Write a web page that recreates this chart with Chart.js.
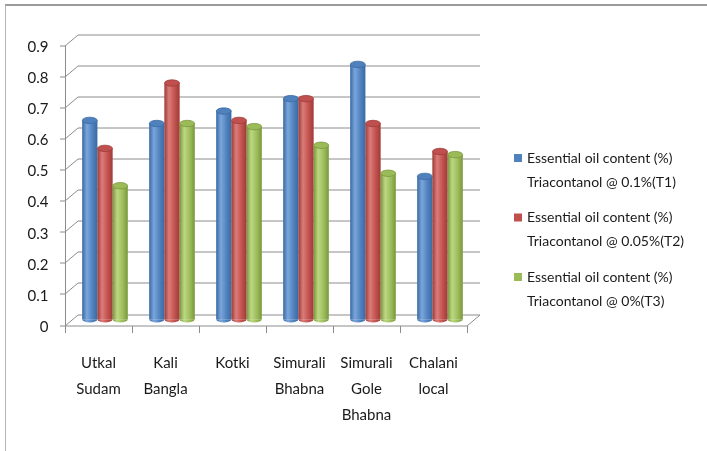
<!DOCTYPE html>
<html>
<head>
<meta charset="utf-8">
<script src="https://cdn.jsdelivr.net/npm/chart.js@4"></script>
<style>
  html, body { margin: 0; padding: 0; background: #fff; }
  #wrap { width: 707px; height: 451px; position: relative; }
</style>
</head>
<body>
<div id="wrap"><canvas id="oil-canvas"></canvas></div>
<script>
// varieties along the x axis
const varieties = [
  ['Utkal', 'Sudam'],
  ['Kali', 'Bangla'],
  ['Kotki'],
  ['Simurali', 'Bhabna'],
  ['Simurali', 'Gole', 'Bhabna'],
  ['Chalani', 'local'],
]
// essential oil content (%) per treatment
const oilT1 = [0.64, 0.63, 0.67, 0.71, 0.82, 0.46]
const oilT2 = [0.55, 0.76, 0.64, 0.71, 0.63, 0.54]
const oilT3 = [0.43, 0.63, 0.62, 0.56, 0.47, 0.53]
const seriesNames = [
  ['Essential oil content (%)', 'Triacontanol @ 0.1%(T1)'],
  ['Essential oil content (%)', 'Triacontanol @ 0.05%(T2)'],
  ['Essential oil content (%)', 'Triacontanol @ 0%(T3)'],
]
const yTicks = [0, 0.1, 0.2, 0.3, 0.4, 0.5, 0.6, 0.7, 0.8, 0.9]

// cylinder colours: dark edge, highlight, body, cap outline
const shades = [
  { dark: '#3c6aa3', light: '#7aa6dc', cap: '#4f81bd', line: '#3c6aa3' },
  { dark: '#9e3c39', light: '#dc7c79', cap: '#c0504d', line: '#9e3c39' },
  { dark: '#7a983f', light: '#bcd882', cap: '#9bbb59', line: '#7a983f' },
]

const FONT = 'Lato, "Open Sans", sans-serif'
const DX = 6.5
const DY = 5.5

// 3D frame: back wall, slanted side, floor and front axis
const frame3d = {
  id: 'frame3d',
  beforeDraw(chart) {
    const c = chart.ctx
    c.save()
    c.strokeStyle = '#9a9a9a'
    c.lineWidth = 2
    c.beginPath(); c.moveTo(5, 5); c.lineTo(707, 5); c.stroke()
    c.strokeStyle = '#b4b4b4'
    c.lineWidth = 1
    c.beginPath(); c.moveTo(5.5, 5); c.lineTo(5.5, 451); c.stroke()
    c.restore()
  },
  beforeDatasetsDraw(chart) {
    const c = chart.ctx
    const a = chart.chartArea
    const ys = chart.scales.y
    const L = a.left, R = a.right
    const y0 = ys.getPixelForValue(0)
    const yTop = ys.getPixelForValue(yTicks[yTicks.length - 1])
    c.save()
    c.lineWidth = 1
    c.strokeStyle = '#8c8c8c'
    yTicks.forEach(v => {
      const y = Math.round(ys.getPixelForValue(v)) + 0.5
      c.beginPath()
      c.moveTo(L + DX, y - DY); c.lineTo(R + DX, y - DY)
      c.moveTo(L - DX, y + DY); c.lineTo(L + DX, y - DY)
      c.moveTo(L - DX - 5, y + DY); c.lineTo(L - DX, y + DY)
      c.stroke()
    })
    // front axis
    c.beginPath()
    c.moveTo(Math.round(L - DX) + 0.5, yTop + DY)
    c.lineTo(Math.round(L - DX) + 0.5, y0 + DY)
    c.stroke()
    // floor
    const yb = Math.round(y0) + 0.5
    c.beginPath()
    c.moveTo(L - DX, yb + DY); c.lineTo(R - DX, yb + DY); c.lineTo(R + DX, yb - DY)
    c.stroke()
    // category ticks
    const n = varieties.length
    const step = (R - L) / n
    for (let i = 0; i <= n; i++) {
      const x = Math.round(L + i * step - DX) + 0.5
      c.beginPath(); c.moveTo(x, yb + DY); c.lineTo(x, yb + DY + 7); c.stroke()
    }
    c.restore()
  },
  afterDatasetsDraw(chart) {
    const c = chart.ctx
    c.save()
    chart.data.datasets.forEach((ds, di) => {
      const meta = chart.getDatasetMeta(di)
      const s = shades[di]
      meta.data.forEach(bar => {
        const rx = bar.width / 2
        const x0 = bar.x - rx
        // cylinder shading over the bar body
        const g = c.createLinearGradient(x0, 0, x0 + bar.width, 0)
        g.addColorStop(0, s.dark)
        g.addColorStop(0.3, s.light)
        g.addColorStop(0.7, s.cap)
        g.addColorStop(1, s.dark)
        c.fillStyle = g
        c.fillRect(x0, bar.y, bar.width, bar.base - bar.y)
        // bottom round
        c.beginPath()
        c.ellipse(bar.x, bar.base, rx, 3, 0, 0, Math.PI)
        c.fill()
        // top cap
        c.beginPath()
        c.ellipse(bar.x, bar.y, rx, 3.2, 0, 0, Math.PI * 2)
        c.fillStyle = s.cap
        c.fill()
        c.strokeStyle = s.line
        c.lineWidth = 0.8
        c.stroke()
      })
    })
    // legend
    c.font = '14px ' + FONT
    c.textBaseline = 'middle'
    c.textAlign = 'left'
    seriesNames.forEach((lines, i) => {
      const y = 158 + i * 59.5
      c.fillStyle = shades[i].cap
      c.fillRect(514, y - 4, 8, 8)
      c.fillStyle = '#1a1a1a'
      lines.forEach((t, j) => c.fillText(t, 527, y + j * 24))
    })
    c.restore()
  },
}

const ctx = document.getElementById('oil-canvas').getContext('2d')
new Chart(ctx, {
  type: 'bar',
  data: {
    labels: varieties,
    datasets: [
      { label: seriesNames[0].join(' '), data: oilT1, backgroundColor: shades[0].cap },
      { label: seriesNames[1].join(' '), data: oilT2, backgroundColor: shades[1].cap },
      { label: seriesNames[2].join(' '), data: oilT3, backgroundColor: shades[2].cap },
    ],
  },
  options: {
    responsive: true,
    maintainAspectRatio: false,
    animation: false,
    categoryPercentage: 0.68,
    barPercentage: 0.98,
    layout: { padding: { top: 39.5, right: 233.5, left: 0, bottom: 0 } },
    plugins: {
      legend: { display: false },
      tooltip: { enabled: false },
    },
    scales: {
      x: {
        grid: { display: false, drawTicks: false },
        border: { display: false },
        ticks: {
          color: '#1a1a1a',
          font: { family: FONT, size: 15, lineHeight: 1.73 },
          padding: 31,
          labelOffset: -DX,
          maxRotation: 0,
          autoSkip: false,
        },
        afterFit(scale) { scale.height = 131.5 },
      },
      y: {
        min: 0,
        max: 0.9,
        grid: { display: false, drawTicks: false },
        border: { display: false },
        afterBuildTicks(scale) { scale.ticks = yTicks.map(v => ({ value: v })) },
        ticks: {
          color: '#1a1a1a',
          font: { family: FONT, size: 15 },
          padding: 23,
          labelOffset: DY + 2,
          callback: v => (v === 0 ? '0' : v.toFixed(1)),
        },
        afterFit(scale) { scale.width = 71.5 },
      },
    },
  },
  plugins: [frame3d],
})
</script>
</body>
</html>
